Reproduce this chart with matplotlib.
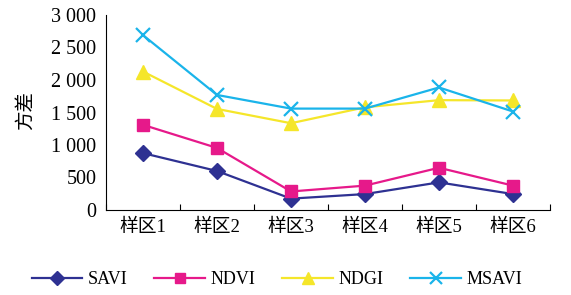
import matplotlib
matplotlib.use("Agg")
import matplotlib.pyplot as plt
from matplotlib.ticker import FuncFormatter

plt.rcParams['font.family'] = ['Liberation Serif', 'Noto Sans CJK SC']

sites = ["样区1", "样区2", "样区3", "样区4", "样区5", "样区6"]
savi = [875, 600, 175, 245, 425, 245]
ndvi = [1310, 955, 285, 375, 650, 375]
ndgi = [2130, 1555, 1335, 1580, 1690, 1685]
msavi = [2690, 1770, 1560, 1560, 1885, 1515]

series = [
    ("SAVI", savi, "#2E3192", "D", 8, 1.0),
    ("NDVI", ndvi, "#E6198A", "s", 8, 1.0),
    ("NDGI", ndgi, "#F5E62A", "^", 10, 1.0),
    ("MSAVI", msavi, "#1AB4EA", "x", 10, 1.6),
]

fig = plt.figure(figsize=(5.71, 2.95), dpi=100)
ax = fig.add_axes([106 / 571, 1 - 210 / 295, 444 / 571, 195 / 295])

x = range(len(sites))
for name, vals, col, mk, ms, mew in series:
    ax.plot(x, vals, color=col, lw=1.6, marker=mk, markersize=ms,
            markeredgewidth=mew, markeredgecolor=col, markerfacecolor=col, label=name)

ax.set_xlim(-0.5, len(sites) - 0.5)
ax.set_ylim(0, 3000)
ax.set_yticks(range(0, 3001, 500))
ax.yaxis.set_major_formatter(FuncFormatter(
    lambda v, p: f"{int(v):,}".replace(",", " ")))
ax.set_xticks(list(x))
ax.set_xticklabels(sites)
ax.set_xticks([i - 0.5 for i in range(len(sites) + 1)], minor=True)
ax.tick_params(axis="x", which="major", length=0, pad=6, labelsize=13.5)
ax.tick_params(axis="x", which="minor", direction="in", length=4, width=0.8)
ax.tick_params(axis="y", length=0, pad=7, labelsize=14.5)

for s in ["top", "right"]:
    ax.spines[s].set_visible(False)
for s in ["left", "bottom"]:
    ax.spines[s].set_linewidth(0.8)

fig.text(25 / 571, 1 - 110 / 295, "方差", rotation=90, fontsize=14,
         ha="center", va="center", family=["Noto Sans CJK SC"])

fig.legend(loc="center", bbox_to_anchor=(0.485, 1 - 280 / 295), ncol=4,
           frameon=False, fontsize=13, handlelength=2.8, columnspacing=1.5,
           handletextpad=0.3, markerscale=0.85)

fig.savefig("out.png", dpi=100)
